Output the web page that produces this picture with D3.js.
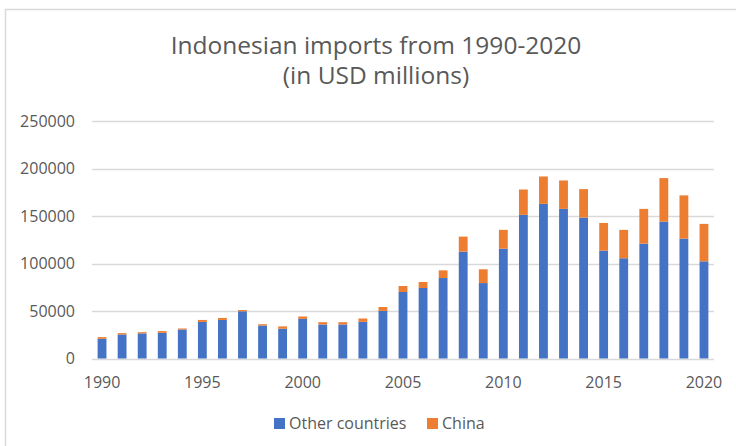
<!DOCTYPE html>
<html lang="en">
    <head>
        <meta charset="utf-8">
        <title>Indonesian imports from 1990-2020</title>
        <script src="https://cdn.jsdelivr.net/npm/d3@7"></script>
        <style>
            body
            {
                margin: 0;
                background: #fff;
            }
            text
            {
                font-family: "Open Sans", "Noto Sans", sans-serif;
                fill: #595959;
            }
        </style>
    </head>
    <body>
        <svg id="chart" width="736" height="446"></svg>
        <script>
            // values (USD millions)
            var years = d3.range(1990, 2021)
            var otherCountries = [20700, 25300, 26400, 27000, 30500, 38500, 40600, 49700, 34700, 31300,
                                  41700, 35800, 35800, 38600, 50100, 70000, 74200, 84700, 112500, 79400,
                                  115600, 151200, 162800, 157500, 148300, 113500, 105500, 120900, 144100, 126200,
                                  102300]
            var china = [1800, 1400, 1300, 1800, 1100, 2100, 2100, 1300, 1400, 2500,
                         2500, 2400, 2400, 3500, 4100, 6300, 6300, 8100, 15800, 14500,
                         19800, 26700, 28800, 29900, 30000, 29200, 29900, 36600, 45800, 45500,
                         39400]
            var yTicks = [0, 50000, 100000, 150000, 200000, 250000]
            var xLabels = [1990, 1995, 2000, 2005, 2010, 2015, 2020]
            var seriesNames = ['Other countries', 'China']
            var colors = ['#4472C4', '#ED7D31']

            var svg = d3.select('#chart')

            // chart frame
            svg.append('rect')
                .attr('x', 5.5)
                .attr('y', 9.5)
                .attr('width', 760)
                .attr('height', 460)
                .attr('fill', '#fff')
                .attr('stroke', '#d9d9d9')
                .attr('stroke-width', 1.5)

            var x = d3.scaleBand()
                .domain(years)
                .range([92, 714])
                .paddingInner(0.56)
                .paddingOuter(0.28)

            var y = d3.scaleLinear()
                .domain([0, 250000])
                .range([358.5, 121])

            // gridlines
            svg.append('g')
                .selectAll('line')
                .data(yTicks)
                .join('line')
                .attr('x1', 92)
                .attr('x2', 714)
                .attr('y1', function (d) { return Math.round(y(d)) + 0.5 })
                .attr('y2', function (d) { return Math.round(y(d)) + 0.5 })
                .attr('stroke', '#d9d9d9')
                .attr('stroke-width', 1.5)

            // y labels
            svg.append('g')
                .selectAll('text')
                .data(yTicks)
                .join('text')
                .attr('x', 75)
                .attr('y', function (d) { return y(d) })
                .attr('dy', '0.36em')
                .attr('text-anchor', 'end')
                .attr('font-size', 16)
                .text(function (d) { return d })

            // stacked bars
            var stackData = years.map(function (yr, i)
            {
                return {year: yr, other: otherCountries[i], china: china[i]}
            })
            var stack = d3.stack().keys(['other', 'china'])(stackData)

            svg.append('g')
                .selectAll('g')
                .data(stack)
                .join('g')
                .attr('fill', function (d, i) { return colors[i] })
                .selectAll('rect')
                .data(function (d) { return d })
                .join('rect')
                .attr('x', function (d) { return x(d.data.year) })
                .attr('width', x.bandwidth())
                .attr('y', function (d) { return y(d[1]) })
                .attr('height', function (d) { return y(d[0]) - y(d[1]) })

            // x labels
            svg.append('g')
                .selectAll('text')
                .data(xLabels)
                .join('text')
                .attr('x', function (d) { return x(d) + x.bandwidth() / 2 })
                .attr('y', 388)
                .attr('text-anchor', 'middle')
                .attr('font-size', 16)
                .text(function (d) { return d })

            // title
            svg.append('text')
                .attr('x', 376)
                .attr('y', 54)
                .attr('text-anchor', 'middle')
                .attr('font-size', 24.5)
                .text('Indonesian imports from 1990-2020')

            svg.append('text')
                .attr('x', 376)
                .attr('y', 84)
                .attr('text-anchor', 'middle')
                .attr('font-size', 24.5)
                .text('(in USD millions)')

            // legend
            var legendX = [274, 427]
            var legend = svg.append('g')
                .selectAll('g')
                .data(seriesNames)
                .join('g')
                .attr('transform', function (d, i) { return 'translate(' + legendX[i] + ',418)' })

            legend.append('rect')
                .attr('width', 11)
                .attr('height', 11)
                .attr('fill', function (d, i) { return colors[i] })

            legend.append('text')
                .attr('x', 15)
                .attr('y', 11)
                .attr('font-size', 16)
                .text(function (d) { return d })
        </script>
    </body>
</html>
